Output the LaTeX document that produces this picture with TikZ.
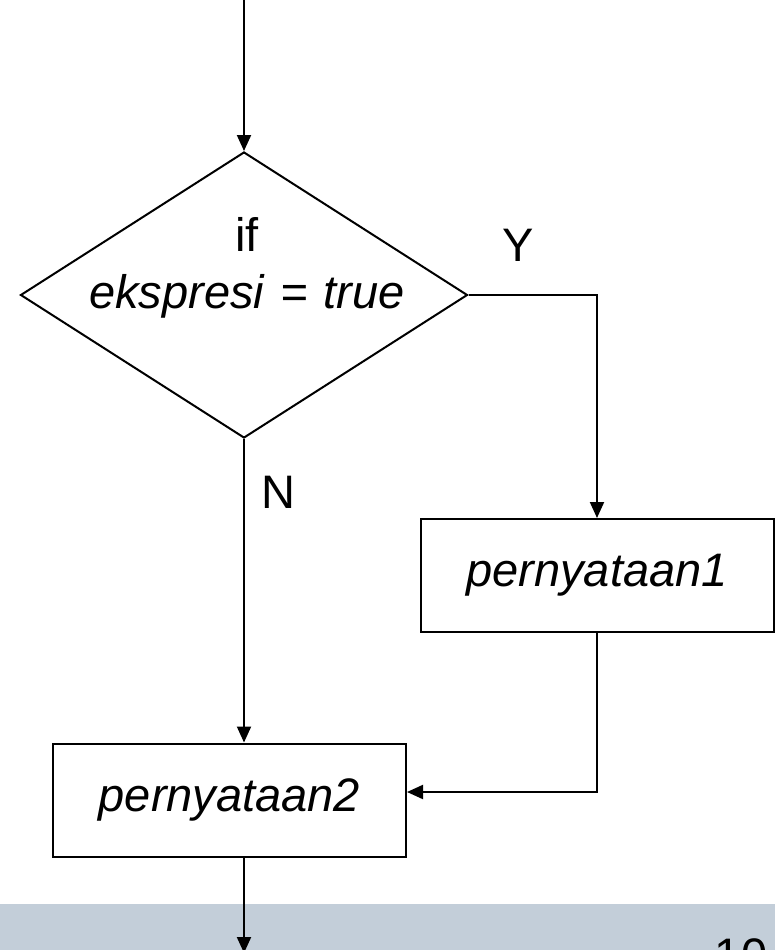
\documentclass[tikz,border=0pt]{standalone}
\usepackage{fontspec}
\setmainfont{Liberation Sans}
\usetikzlibrary{shapes.geometric,arrows.meta}

\begin{document}
\begin{tikzpicture}[x=1pt,y=-1pt,
        line width=2pt,
        font=\fontsize{47}{57}\selectfont,
        flow/.style={-{Triangle[length=16pt,width=14pt]}},
        decision/.style={draw,diamond,inner sep=0pt,minimum width=447pt,minimum height=286pt},
        process/.style={draw,rectangle,inner sep=0pt,minimum width=353pt,minimum height=113pt},
        tag/.style={inner sep=0pt}]
        % Define colors
        \definecolor{bandcolor}{RGB}{195,206,217} % grey blue

        % Fix the page
        \clip (0,0) rectangle (775,950);

        % Draw footer band
        \fill[bandcolor] (0,904) rectangle (775,950);
        \node[tag,anchor=north] (pagenum) at (741,938) {10};

        % Draw decision and statements
        \node[decision] (cond) at (244,295) {};
        \node[tag,align=center] (condtext) at (247,268) {if\\\textit{ekspresi\hspace{3pt} = \hspace{3pt}true}};
        \node[process] (stmtone) at (597,575.5) {\textit{pernyataan1}};
        \node[process] (stmttwo) at (229.5,800) {\textit{pernyataan2}};

        % Draw connectors
        \coordinate (entry) at (244,-5);
        \coordinate (exit) at (244,953);
        \draw[flow] (entry) -- (cond.north);
        \draw[flow] (cond.east) -| (stmtone.north);
        \draw[flow] (cond.south) -- (cond.south |- stmttwo.north);
        \draw[flow] (stmtone.south) |- ([yshift=8pt]stmttwo.east);
        \draw[flow] (cond.south |- stmttwo.south) -- (exit);

        % Label branches
        \node[tag] (yes) at (518,245) {Y};
        \node[tag] (no) at (278,492) {N};
    \end{tikzpicture}
\end{document}
